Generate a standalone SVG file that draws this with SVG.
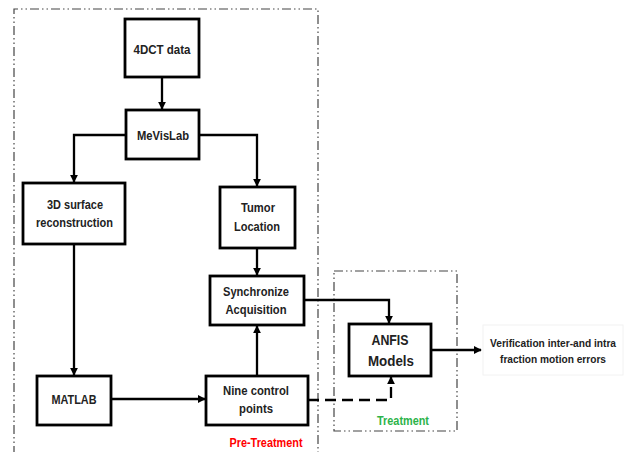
<svg xmlns="http://www.w3.org/2000/svg" width="626" height="452" viewBox="0 0 626 452">
<style>
.box{fill:#fff;stroke:#000;stroke-width:2.8}
.t{font-family:"Liberation Sans",Arial,sans-serif;font-weight:bold;font-size:12.5px;fill:#222;text-anchor:middle}
.big{font-size:15.5px}
.c{fill:none;stroke:#000;stroke-width:2.3}
.dd{fill:none;stroke:#444;stroke-width:1.2;stroke-dasharray:9,3,1.5,3,1.5,3}
</style>
<defs>
<marker id="ah" viewBox="0 0 10 10" refX="9" refY="5" markerWidth="8" markerHeight="8" markerUnits="userSpaceOnUse" orient="auto">
<path d="M0,0 L10,5 L0,10 z" fill="#000"/>
</marker>
</defs>
<rect width="626" height="452" fill="#fff"/>
<g id="regions">
<path class="dd" d="M14,455 L14,9 L318,9 L318,455"/>
<rect class="dd" x="334" y="271" width="123" height="160"/>
<text class="t" x="266" y="447" style="fill:#f00" textLength="73" lengthAdjust="spacingAndGlyphs">Pre-Treatment</text>
<text class="t" x="403" y="425" style="fill:#2db34a" textLength="52" lengthAdjust="spacingAndGlyphs">Treatment</text>
</g>
<g id="connectors">
<line class="c" x1="162" y1="77" x2="162" y2="109" marker-end="url(#ah)"/>
<path class="c" d="M126,135 L74,135 L74,182" marker-end="url(#ah)"/>
<path class="c" d="M199,135 L257,135 L257,186" marker-end="url(#ah)"/>
<line class="c" x1="74" y1="244" x2="74" y2="375" marker-end="url(#ah)"/>
<line class="c" x1="257" y1="248" x2="257" y2="275" marker-end="url(#ah)"/>
<line class="c" x1="111" y1="399" x2="205" y2="399" marker-end="url(#ah)"/>
<line class="c" x1="257" y1="376" x2="257" y2="326" marker-end="url(#ah)"/>
<path class="c" d="M304,300 L389,300 L389,323" marker-end="url(#ah)"/>
<path class="c" d="M308,400 L391,400 L391,377" stroke-dasharray="11,6" marker-end="url(#ah)"/>
<line class="c" x1="431" y1="350" x2="481" y2="350" marker-end="url(#ah)"/>
</g>
<g id="n4dct"><rect class="box" x="125" y="19" width="74" height="58"/><text class="t" x="162" y="54" textLength="57" lengthAdjust="spacingAndGlyphs">4DCT data</text></g>
<g id="nmevislab"><rect class="box" x="126" y="110" width="73" height="49"/><text class="t" x="163" y="140" textLength="52" lengthAdjust="spacingAndGlyphs">MeVisLab</text></g>
<g id="n3d"><rect class="box" x="23" y="183" width="102" height="61"/><text class="t" x="75" y="209" textLength="56" lengthAdjust="spacingAndGlyphs">3D surface</text><text class="t" x="74.5" y="227" textLength="77" lengthAdjust="spacingAndGlyphs">reconstruction</text></g>
<g id="ntumor"><rect class="box" x="220" y="187" width="75" height="61"/><text class="t" x="258" y="212" textLength="34" lengthAdjust="spacingAndGlyphs">Tumor</text><text class="t" x="257" y="231" textLength="46" lengthAdjust="spacingAndGlyphs">Location</text></g>
<g id="nsync"><rect class="box" x="210" y="276" width="94" height="49"/><text class="t" x="256" y="296" textLength="66" lengthAdjust="spacingAndGlyphs">Synchronize</text><text class="t" x="256" y="314" textLength="61" lengthAdjust="spacingAndGlyphs">Acquisition</text></g>
<g id="nmatlab"><rect class="box" x="37" y="376" width="74" height="49"/><text class="t" x="74" y="404" textLength="45" lengthAdjust="spacingAndGlyphs">MATLAB</text></g>
<g id="nnine"><rect class="box" x="206" y="376" width="102" height="49"/><text class="t" x="256" y="395" textLength="66" lengthAdjust="spacingAndGlyphs">Nine control</text><text class="t" x="256" y="413" textLength="34" lengthAdjust="spacingAndGlyphs">points</text></g>
<g id="nanfis"><rect class="box" x="349" y="324" width="82" height="52"/><text class="t big" x="390" y="345" textLength="37" lengthAdjust="spacingAndGlyphs">ANFIS</text><text class="t big" x="391" y="366" textLength="46" lengthAdjust="spacingAndGlyphs">Models</text></g>
<g id="nverif"><rect x="483" y="325" width="140" height="50" fill="#fff" stroke="#f2f2f2" stroke-width="1"/><text class="t" x="553" y="347" style="font-size:10.5px" textLength="126" lengthAdjust="spacingAndGlyphs">Verification inter-and intra</text><text class="t" x="553" y="363" style="font-size:10.5px" textLength="106" lengthAdjust="spacingAndGlyphs">fraction motion errors</text></g>
</svg>
